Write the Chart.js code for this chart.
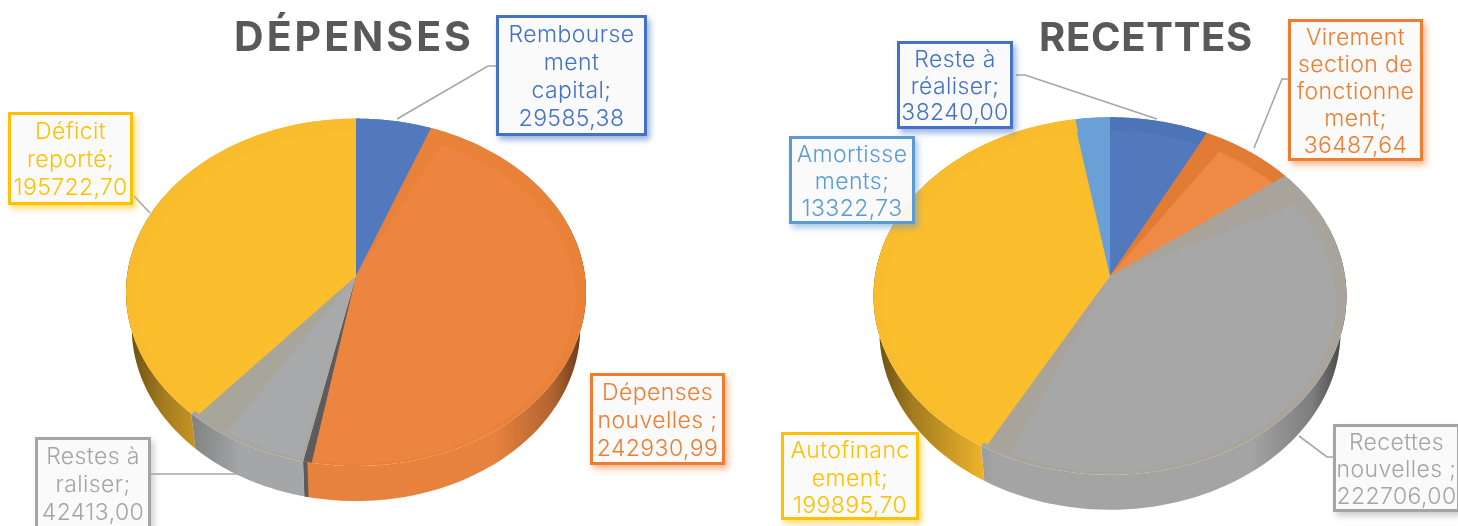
<!DOCTYPE html>
<html>
<head>
<meta charset="utf-8">
<title>Dépenses et recettes</title>
<script src="https://cdn.jsdelivr.net/npm/chart.js@4/dist/chart.umd.js"></script>
<style>
    html, body { margin: 0; padding: 0; background: #fff; overflow: hidden; }
    #page { position: relative; width: 1458px; height: 526px; overflow: hidden; }
    canvas { position: absolute; top: 0; filter: blur(0.5px); }
    #depenses { left: 0; }
    #recettes { left: 834px; }
    .box {
        position: absolute;
        box-sizing: border-box;
        border: 3px solid;
        padding-top: 2px;
        background: rgba(250, 250, 250, 0.92);
        font-family: Inter, sans-serif;
        font-weight: 300;
        font-size: 23px;
        letter-spacing: 0.4px;
        text-align: center;
        white-space: nowrap;
        filter: blur(0.3px);
    }
</style>
</head>
<body>
<div id="page">
    <canvas id="depenses" width="708" height="526"></canvas>
    <canvas id="recettes" width="624" height="526"></canvas>
</div>
<script>
const depLabels = ["Remboursement capital", "Dépenses nouvelles", "Restes à raliser", "Déficit reporté"];
const depLines = [["Rembourse", "ment", "capital;"], ["Dépenses", "nouvelles ;"], ["Restes à", "raliser;"], ["Déficit", "reporté;"]];
const depValues = [29585.38, 242930.99, 42413.00, 195722.70];

const recLabels = ["Reste à réaliser", "Virement section de fonctionnement", "Recettes nouvelles", "Autofinancement", "Amortissements"];
const recLines = [["Reste à", "réaliser;"], ["Virement", "section de", "fonctionne", "ment;"], ["Recettes", "nouvelles ;"], ["Autofinanc", "ement;"], ["Amortisse", "ments;"]];
const recValues = [38240.00, 36487.64, 222706.00, 199895.70, 13322.73];

// couleurs
const depColors = ["#5279BD", "#EC853F", "#A8A9AA", "#FBBE2D"];
const depRims = ["#5279BD", "#E98139", "#A8A59B", "#F9BC2C"];
const depEdges = ["#5279BD", "#5C5C5E", "#A8A9AA", "#FBBE2D"];
const depBorders = ["#4472C4", "#ED7D31", "#A5A5A5", "#FFC000"];

const recColors = ["#5279BD", "#EE8A46", "#A7A7A8", "#FBBE2D", "#6BA0D6"];
const recRims = ["#4E74B8", "#E27C34", "#A9A49B", "#F9BC2C", "#6BA0D6"];
const recEdges = ["#5279BD", "#EE8A46", "#A7A7A8", "#EDB40C", "#6BA0D6"];
const recBorders = ["#4472C4", "#ED7D31", "#A5A5A5", "#FFC000", "#5B9BD5"];

// place des etiquettes : x, y, largeur, hauteur, interligne
const depBoxes = [[496, 15, 151, 121, 28], [590, 373, 135, 92, 28], [35, 437, 116, 95, 28], [8, 112, 125, 93, 28]];
const recBoxes = [[897, 41, 116, 88, 26.5], [1288, 19, 135, 142, 27], [1333, 424, 127, 88, 27], [781, 432, 138, 88, 27.5], [789, 136, 126, 88, 27]];

// traits de rappel, en coordonnees du canvas
const depLeaders = [[[497, 66], [488, 66], [397, 119]], [[134, 196], [150, 213]], [[151, 474], [238, 474]]];
const recLeaders = [[[182, 75], [191, 75], [323, 119]], [[456, 79], [448, 79], [420, 148]], [[501, 457], [493, 457], [465, 436]]];

function frNumber(v) {
    return v.toFixed(2).replace(".", ",");
}

class Pie3DController extends Chart.PieController {
    point(arc, angle, r, drop) {
        const ds = this.getDataset();
        const u = Math.cos(angle) * r;
        const v = Math.sin(angle) * r;
        const den = 1 - ds.perspective * v;
        return [arc.x + ds.shiftX + u * arc.outerRadius / den, arc.y + drop + v * arc.outerRadius * ds.squash / den];
    }

    wedge(ctx, arc, a0, a1, r, drop) {
        ctx.beginPath();
        ctx.moveTo(arc.x + this.getDataset().shiftX, arc.y);
        for (let i = 0; i <= 80; i++) {
            const p = this.point(arc, a0 + (a1 - a0) * i / 80, r, drop);
            ctx.lineTo(p[0], p[1]);
        }
        ctx.closePath();
    }

    wall(ctx, arc, a0, a1) {
        const ds = this.getDataset();
        const cx = arc.x + ds.shiftX;
        const top = [];
        for (let i = 0; i <= 80; i++) {
            top.push(this.point(arc, a0 + (a1 - a0) * i / 80, 1, 0));
        }
        ctx.beginPath();
        top.forEach((p) => ctx.lineTo(p[0], p[1]));
        top.reverse().forEach((p) => {
            ctx.lineTo(cx + (p[0] - cx) * ds.shrink, p[1] + ds.depth);
        });
        ctx.closePath();
    }

    draw() {
        const ctx = this.chart.ctx;
        const ds = this.getDataset();
        const arcs = this.getMeta().data;
        const deg = Math.PI / 180;

        // les cotes d'abord, la face du dessus les recouvre
        arcs.forEach((arc, i) => {
            const R = arc.outerRadius;
            const cx = arc.x + ds.shiftX;
            this.wall(ctx, arc, arc.startAngle, arc.endAngle);
            ctx.fillStyle = ds.backgroundColor[i];
            ctx.fill();
            const shade = ctx.createLinearGradient(cx - R, 0, cx + R, 0);
            shade.addColorStop(0, "rgba(0,0,0,0.6)");
            shade.addColorStop(0.08, "rgba(0,0,0,0.35)");
            shade.addColorStop(0.25, "rgba(0,0,0,0.02)");
            shade.addColorStop(0.8, "rgba(0,0,0,0.02)");
            shade.addColorStop(0.93, "rgba(0,0,0,0.25)");
            shade.addColorStop(1, "rgba(0,0,0,0.6)");
            ctx.fillStyle = shade;
            ctx.fill();
            if (ds.endStrip[i] > 0) {
                this.wall(ctx, arc, arc.endAngle - ds.endStrip[i] * deg * 0.5, arc.endAngle);
                ctx.fillStyle = ds.edgeColor[i];
                ctx.fill();
            }
        });

        arcs.forEach((arc, i) => {
            this.wedge(ctx, arc, arc.startAngle, arc.endAngle, 1, 0);
            ctx.fillStyle = ds.rimColor[i];
            ctx.fill();
            this.wedge(ctx, arc, arc.startAngle + ds.startInset[i] * deg, arc.endAngle - ds.endInset[i] * deg, ds.inset, ds.insetDrop);
            ctx.fillStyle = ds.backgroundColor[i];
            ctx.fill();
            if (ds.endStrip[i] > 0) {
                this.wedge(ctx, arc, arc.endAngle - ds.endStrip[i] * deg, arc.endAngle, 1, 0);
                ctx.fillStyle = ds.edgeColor[i];
                ctx.fill();
            }
        });
    }
}
Pie3DController.id = "pie3d";
Pie3DController.defaults = {};
Chart.register(Pie3DController);

const leaderPlugin = {
    id: "leaders",
    beforeDraw(chart, args, opts) {
        chart.ctx.letterSpacing = opts.titleSpacing;
    },
    afterDraw(chart, args, opts) {
        const ctx = chart.ctx;
        ctx.save();
        ctx.strokeStyle = "#A6A6A6";
        ctx.lineWidth = 1.6;
        opts.lines.forEach((line) => {
            ctx.beginPath();
            line.forEach((p) => ctx.lineTo(p[0], p[1]));
            ctx.stroke();
        });
        ctx.restore();
    },
};

function makeChart(id, title, labels, values, style, titleFont, padding) {
    return new Chart(document.getElementById(id), {
        type: "pie3d",
        data: {
            labels: labels,
            datasets: [Object.assign({ data: values }, style)],
        },
        options: {
            responsive: false,
            maintainAspectRatio: false,
            animation: false,
            events: [],
            layout: { padding: padding },
            plugins: {
                legend: { display: false },
                tooltip: { enabled: false },
                title: {
                    display: true,
                    text: title,
                    color: "#595959",
                    font: { family: "Inter", weight: "bold", size: titleFont.size, lineHeight: 1.2 },
                    padding: { top: titleFont.top, bottom: 36 - titleFont.top - titleFont.size * 1.2 },
                },
                leaders: { lines: titleFont.lines, titleSpacing: titleFont.spacing },
            },
        },
        plugins: [leaderPlugin],
    });
}

makeChart("depenses", "DÉPENSES", depLabels, depValues, {
    backgroundColor: depColors,
    rimColor: depRims,
    edgeColor: depEdges,
    startInset: [0, 4, 1, 0],
    endInset: [0, 0, 9, 0],
    endStrip: [0, 2, 0, 0],
    shiftX: 2,
    squash: 0.752,
    perspective: 0.094,
    shrink: 0.975,
    depth: 35,
    inset: 0.955,
    insetDrop: 7,
}, { size: 41, top: 14, spacing: "3px", lines: depLeaders }, { left: 124, right: 124, top: 0, bottom: 10 });

makeChart("recettes", "RECETTES", recLabels, recValues, {
    backgroundColor: recColors,
    rimColor: recRims,
    edgeColor: recEdges,
    startInset: [0, 5, 8, 0, 0],
    endInset: [0, 0, 6, 1.5, 0],
    endStrip: [0, 0, 0, 0, 0],
    shiftX: -36,
    squash: 0.751,
    perspective: 0.112,
    shrink: 0.975,
    depth: 35,
    inset: 0.955,
    insetDrop: 7,
}, { size: 40, top: 15, spacing: "0.7px", lines: recLeaders }, { left: 76, right: 76, top: 0, bottom: 10 });

function addBoxes(lines, values, boxes, borders) {
    const page = document.getElementById("page");
    lines.forEach((textLines, i) => {
        const b = boxes[i];
        const div = document.createElement("div");
        div.className = "box";
        div.style.left = b[0] + "px";
        div.style.top = b[1] + "px";
        div.style.width = b[2] + "px";
        div.style.height = b[3] + "px";
        div.style.lineHeight = b[4] + "px";
        div.style.borderColor = borders[i];
        div.style.color = borders[i];
        div.style.boxShadow = "3px 4px 6px " + borders[i] + "88";
        textLines.concat(frNumber(values[i])).forEach((t) => {
            const line = document.createElement("div");
            line.textContent = t;
            div.appendChild(line);
        });
        page.appendChild(div);
    });
}
addBoxes(depLines, depValues, depBoxes, depBorders);
addBoxes(recLines, recValues, recBoxes, recBorders);
</script>
</body>
</html>
